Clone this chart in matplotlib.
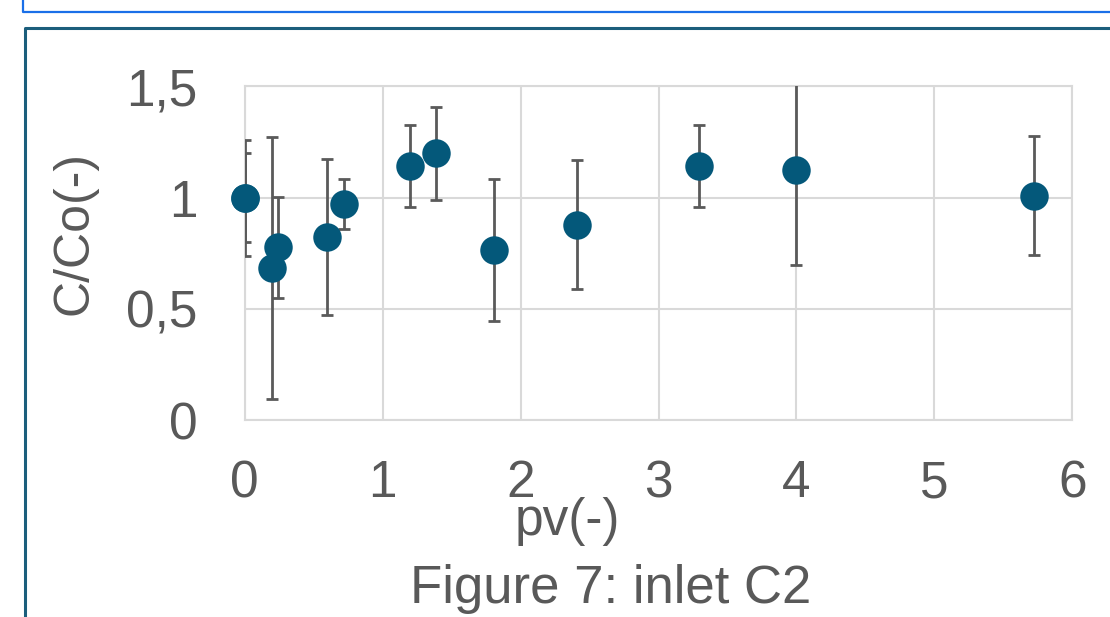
import numpy as np
import matplotlib
matplotlib.use("Agg")
import matplotlib.pyplot as plt
from matplotlib.lines import Line2D
from matplotlib.ticker import FuncFormatter

plt.rcParams['font.family'] = ['Liberation Sans', 'DejaVu Sans']

# data
pv = [0.0, 0.0, 0.20, 0.24, 0.60, 0.72, 1.20, 1.39, 1.81, 2.41, 3.29, 4.00, 5.72]
c_co = [1.00, 1.00, 0.683, 0.777, 0.823, 0.972, 1.142, 1.199, 0.765, 0.879, 1.142, 1.124, 1.009]
c_err = [0.26, 0.20, 0.589, 0.228, 0.351, 0.114, 0.185, 0.209, 0.317, 0.29, 0.186, 0.426, 0.266]
x_ticks = [0, 1, 2, 3, 4, 5, 6]
y_ticks = [0, 0.5, 1.0, 1.5]

text_col = '#595959'
grid_col = '#d9d9d9'
point_col = '#04587a'

fig = plt.figure(figsize=(11.1, 6.17), dpi=100)
ax = fig.add_axes([0.2203, 0.3188, 0.7459, 0.5412])

# error bars (clipped by axes), markers drawn on top unclipped
ax.errorbar(pv, c_co, yerr=c_err, fmt='none', ecolor='#5a5a5a',
            elinewidth=2.0, capsize=4.5, capthick=2.0, zorder=3)
ax.plot(pv, c_co, 'o', color=point_col, markersize=20.5, markeredgewidth=0,
        clip_on=False, zorder=4)

ax.set_xlim(0, 6)
ax.set_ylim(0, 1.5)
ax.set_xticks(x_ticks)
ax.set_yticks(y_ticks)
ax.yaxis.set_major_formatter(FuncFormatter(lambda v, p: ('%g' % v).replace('.', ',')))
ax.tick_params(length=0, labelsize=37, colors=text_col)
ax.tick_params(axis='x', pad=28)
ax.tick_params(axis='y', pad=34)
ax.grid(True, color=grid_col, linewidth=1.5)
ax.set_axisbelow(True)
for s in ax.spines.values():
    s.set_color(grid_col)
    s.set_linewidth(1.5)

# axis titles and caption placed like the original
fig.text(74 / 1110, 1 - 233 / 617, 'C/Co(-)', rotation=90, ha='center', va='center',
         fontsize=36, color=text_col)
fig.text(567 / 1110, 1 - 535 / 617, 'pv(-)', ha='center', va='baseline',
         fontsize=37, color=text_col)
fig.text(611 / 1110, 1 - 603 / 617, 'Figure 7: inlet C2', ha='center', va='baseline',
         fontsize=38, color=text_col)

# frame lines from the surrounding document
bx, by = 22.5 / 1110, 1 - 11.5 / 617
fig.add_artist(Line2D([bx, bx, 1.01], [1.01, by, by], color='#1a6fe8', linewidth=1.6))
tx, ty = 25 / 1110, 1 - 27.5 / 617
fig.add_artist(Line2D([tx, tx, 1.01], [-0.01, ty, ty], color='#1b5e7c', linewidth=2.2))

fig.savefig('out.png', dpi=100)
